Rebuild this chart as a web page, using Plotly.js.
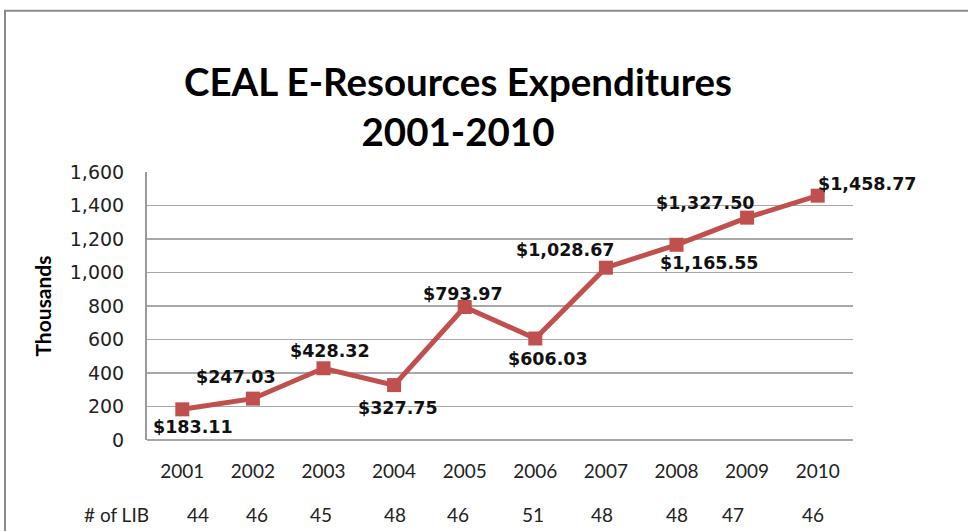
<!DOCTYPE html>
<html>
<head>
<meta charset="utf-8">
<script src="https://cdn.plot.ly/plotly-3.0.1.min.js"></script>
<style>html,body{margin:0;padding:0;background:#fff;}#chart{width:968px;height:531px;}</style>
</head>
<body>
<div id="chart"></div>
<script>
// ---- data ----
var years = ["2001","2002","2003","2004","2005","2006","2007","2008","2009","2010"];
var expenditures = [183.11, 247.03, 428.32, 327.75, 793.97, 606.03, 1028.67, 1165.55, 1327.50, 1458.77];
var valueLabels = ["$183.11","$247.03","$428.32","$327.75","$793.97","$606.03","$1,028.67","$1,165.55","$1,327.50","$1,458.77"];
var libCounts = [44, 46, 45, 48, 46, 51, 48, 48, 47, 46];
var yTicks = [0, 200, 400, 600, 800, 1000, 1200, 1400, 1600];
var yTickText = ["0","200","400","600","800","1,000","1,200","1,400","1,600"];

// ---- style / layout (pixel offsets only) ----
var labelDx = [11, -17, 6, 4, -2, 13, -40, 33, -42, 50];
var labelDy = [-18, 22, 17, -23, 13, -21, 18, -18, 15, 12];
var libDx = [16, 4, -3, 1, -7, -2, -4, 0, -14, -5];
var RED = "#c0504d";
var W = 968, H = 531, L = 147, R = 115, T = 171.5, B = 91;
var pw = W - L - R, ph = H - T - B;
function px(x){ return (x - L) / pw; }
function py(y){ return (H - B - y) / ph; }

var trace = {
  type: "scatter", mode: "lines+markers",
  x: years.map(function(_, i){ return i; }),
  y: expenditures,
  line: {color: RED, width: 5},
  marker: {symbol: "square", size: 14, color: RED},
  hoverinfo: "none", showlegend: false, cliponaxis: false
};

var annotations = [];
expenditures.forEach(function(v, i){
  annotations.push({
    xref: "x", yref: "y", x: i, y: v, text: valueLabels[i], showarrow: false,
    xshift: labelDx[i], yshift: labelDy[i],
    font: {family: "DejaVu Sans", size: 17.5, color: "#111", weight: "bold"}
  });
});
libCounts.forEach(function(n, i){
  annotations.push({
    xref: "x", yref: "paper", x: i, y: py(515), text: String(n), showarrow: false,
    xshift: libDx[i], yanchor: "middle",
    font: {family: "Lato", size: 19, color: "#222"}
  });
});
annotations.push({
  xref: "paper", yref: "paper", x: px(116), y: py(515), text: "# of LIB", showarrow: false,
  xanchor: "center", yanchor: "middle",
  font: {family: "Lato", size: 19, color: "#222"}
});

var layout = {
  width: W, height: H,
  margin: {l: L, r: R, t: T, b: B, pad: 0},
  paper_bgcolor: "#fff", plot_bgcolor: "#fff",
  title: {
    text: "CEAL E-Resources Expenditures<br>2001-2010",
    xref: "container", yref: "container", x: 458 / W, xanchor: "center",
    y: 1 - 96 / H, yanchor: "middle",
    font: {family: "Lato", size: 38.5, color: "#000", weight: "bold"}
  },
  xaxis: {
    type: "linear", range: [-0.5, 9.5],
    tickmode: "array", tickvals: years.map(function(_, i){ return i; }), ticktext: years,
    showgrid: false, zeroline: false, showline: false,
    ticks: "", ticklabelstandoff: 18,
    tickfont: {family: "Lato", size: 19, color: "#222"},
    fixedrange: true
  },
  yaxis: {
    range: [0, 1600], tickmode: "array", tickvals: yTicks, ticktext: yTickText,
    showgrid: true, gridcolor: "#a8a8a8", gridwidth: 1.3,
    zeroline: true, zerolinecolor: "#a8a8a8", zerolinewidth: 1.3,
    showline: true, linecolor: "#9a9a9a", linewidth: 2,
    ticks: "", ticklabelstandoff: 17,
    tickfont: {family: "DejaVu Sans", size: 19, color: "#222"},
    title: {text: "Thousands", standoff: 12, font: {family: "Lato", size: 21, color: "#000", weight: "bold"}},
    fixedrange: true
  },
  annotations: annotations,
  shapes: [
    {type: "line", xref: "paper", yref: "paper", x0: px(4), x1: px(980), y0: py(10), y1: py(10),
     line: {color: "#8a8a8a", width: 2}},
    {type: "line", xref: "paper", yref: "paper", x0: px(5), x1: px(5), y0: py(10), y1: py(540),
     line: {color: "#8a8a8a", width: 2}}
  ]
};

Plotly.newPlot("chart", [trace], layout, {displayModeBar: false, staticPlot: true});
</script>
</body>
</html>
